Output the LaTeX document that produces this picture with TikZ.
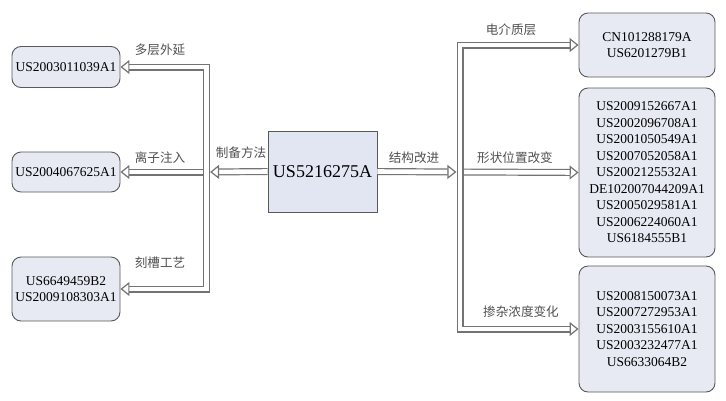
\documentclass[tikz,border=0pt]{standalone}
\usepackage{fontspec}
\setmainfont{Liberation Serif}
\newfontfamily\cjk{Noto Sans CJK SC}
\usetikzlibrary{arrows.meta, positioning, calc}

\definecolor{boxfill}{RGB}{232,234,243}
\definecolor{corefill}{RGB}{226,229,242}
\definecolor{pipegray}{RGB}{115,115,115}
\definecolor{labelgray}{RGB}{80,80,80}

\begin{document}
\begin{tikzpicture}[x=1pt, y=-1pt, line join=miter]
	\tikzset{
		patbox/.style={draw=gray!70!black, fill=boxfill, line width=0.9pt, rounded corners=9pt,
			align=center, inner sep=0pt, text width=130pt, font=\fontsize{13.5}{16.5}\selectfont},
		corebox/.style={draw=gray!70!black, fill=corefill, line width=0.9pt, inner sep=0pt,
			minimum width=109pt, minimum height=81pt, font=\fontsize{18}{20}\selectfont},
		pipe/.style={draw=pipegray, line width=1.2pt, double=white, double distance=4.6pt},
		tip/.style={-{Triangle[open, length=9pt, width=14pt]}},
		tips/.style={{Triangle[open, length=9pt, width=14pt]}-{Triangle[open, length=9pt, width=14pt]}},
		lab/.style={font=\cjk\fontsize{12.6}{13}\selectfont, text=labelgray}
	}
	\useasboundingbox (0,0) rectangle (726,400);
	
	% centre patent
	\node[corebox] (core) at (322.5,171.5) {US5216275A};
	
	% left: process
	\node[patbox, text width=108pt, minimum height=41pt] (dcwy) at (66,67) {US2003011039A1};
	\node[patbox, text width=108pt, minimum height=40pt] (lzzr) at (66,172) {US2004067625A1};
	\node[patbox, text width=108pt, minimum height=64pt] (kcgy) at (66,289) {US6649459B2\\US2009108303A1};
	
	% right: structure
	\node[patbox, text width=136pt, minimum height=64pt] (djzc) at (647,45) {CN101288179A\\US6201279B1};
	\node[patbox, text width=136pt, minimum height=169pt] (xzwz) at (647,172.5) {US2009152667A1\\US2002096708A1\\US2001050549A1\\US2007052058A1\\US2002125532A1\\DE102007044209A1\\US2005029581A1\\US2006224060A1\\US6184555B1};
	\node[patbox, text width=136pt, minimum height=126pt] (czld) at (647,329) {US2008150073A1\\US2007272953A1\\US2003155610A1\\US2003232477A1\\US6633064B2};
	
	\coordinate (lmid) at (206.5,172);
	\coordinate (lbot) at (206.5,289);
	\coordinate (rmid) at (460,172);
	\coordinate (rbot) at (460,329);
	
	% branches first, trunks over them
	\draw[pipe, tip] (lmid) -- (lzzr.east);
	\draw[pipe, tip] (rmid) -- (xzwz.west);
	\draw[pipe, tips] (dcwy.east) -| (lbot) -- (kcgy.east);
	\draw[pipe, tips] (djzc.west) -| (rbot) -- (czld.west);
	
	\draw[pipe, tip] (core.west) -- ($(lmid)+(3.6,0)$);
	\draw[pipe, tip] (core.east) -- ($(rmid)+(-3.6,0)$);
	
	% labels
	\node[lab] (l1) at (160,50) {多层外延};
	\node[lab] (l2) at (160,158) {离子注入};
	\node[lab] (l3) at (160,263) {刻槽工艺};
	\node[lab] (l4) at (241,153) {制备方法};
	\node[lab] (l5) at (414,158) {结构改进};
	\node[lab] (l6) at (511,30) {电介质层};
	\node[lab] (l7) at (515,158) {形状位置改变};
	\node[lab] (l8) at (521,312) {掺杂浓度变化};
\end{tikzpicture}
\end{document}
